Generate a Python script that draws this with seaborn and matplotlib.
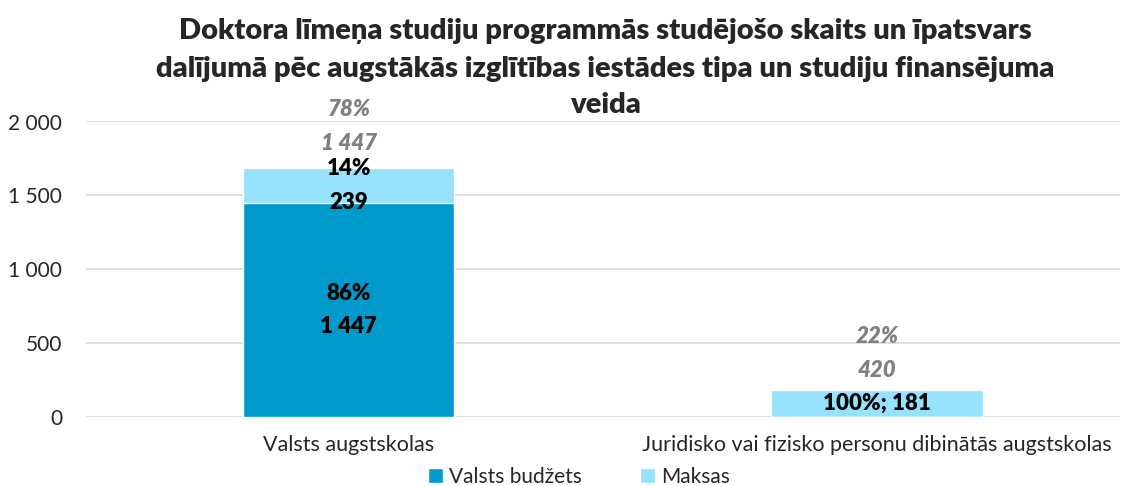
import matplotlib
matplotlib.use("Agg")
import matplotlib.pyplot as plt
import pandas as pd
import seaborn as sns

# data
categories = ["Valsts augstskolas", "Juridisko vai fizisko personu dibinātās augstskolas"]
budzets = [1447, 0]
maksas = [239, 181]
inner_budzets = ["86%\n1 447", ""]
inner_maksas = ["14%\n239", "100%; 181"]
top_labels = ["78%\n1 447", "22%\n420"]
series_names = ["Valsts budžets", "Maksas"]

title_lines = ["Doktora līmeņa studiju programmās studējošo skaits un īpatsvars",
               "dalījumā pēc augstākās izglītības iestādes tipa un studiju finansējuma",
               "veida"]

dark = "#009ACD"
light = "#96E1FB"

sns.set_style("white")
plt.rcParams["font.family"] = ["Lato", "DejaVu Sans"]

df = pd.DataFrame({"cat": categories, "budzets": budzets, "maksas": maksas})
df["total"] = df["budzets"] + df["maksas"]

fig, ax = plt.subplots(figsize=(11.29, 4.86), dpi=100)
fig.subplots_adjust(left=0.076, right=0.992, top=0.75, bottom=0.142)

sns.barplot(data=df, x="cat", y="total", color=light, width=0.4, ax=ax,
            saturation=1, label=series_names[1], zorder=2)
sns.barplot(data=df, x="cat", y="budzets", color=dark, width=0.4, ax=ax,
            saturation=1, label=series_names[0], zorder=3)

lab_kw = dict(ha="center", va="center", fontsize=16, fontweight="heavy",
              color="black", linespacing=1.75, zorder=5)

# labels inside segments
for i, row in df.iterrows():
    if inner_budzets[i]:
        ax.text(i, row["budzets"] / 2, inner_budzets[i], **lab_kw)
    ax.text(i, row["budzets"] + row["maksas"] / 2, inner_maksas[i], **lab_kw)

# grey italic labels above bars
offsets = [10, 7]
for i, row in df.iterrows():
    ax.annotate(top_labels[i], xy=(i, row["total"]), xytext=(0, offsets[i]),
                textcoords="offset points", ha="center", va="bottom",
                fontsize=16, fontweight="heavy", fontstyle="italic",
                color="#808080", linespacing=1.75, zorder=5)

ax.set_ylim(0, 2000)
ax.set_yticks([0, 500, 1000, 1500, 2000])
ax.set_yticklabels([f"{v:,}".replace(",", " ") for v in [0, 500, 1000, 1500, 2000]])
ax.set_xlim(-0.498, 1.46)
ax.yaxis.grid(True, color="#D9D9D9", linewidth=1.2, zorder=0)
ax.set_axisbelow(True)
ax.set_xlabel("")
ax.set_ylabel("")
ax.tick_params(axis="both", length=0, labelsize=15, colors="#262626")
ax.tick_params(axis="x", pad=13, labelsize=15.5)
ax.tick_params(axis="y", pad=17)
sns.despine(ax=ax, left=True, bottom=True)

# title, one text per line
title_y = [31, 69, 105]
for line, ypx in zip(title_lines, title_y):
    fig.text(0.536, 1 - ypx / 486, line, ha="center", va="center", fontsize=21,
             fontweight="heavy", color="#262626")

handles, labels = ax.get_legend_handles_labels()
order = [labels.index(n) for n in series_names]
ax.legend([handles[k] for k in order], [labels[k] for k in order],
          loc="lower center", bbox_to_anchor=(0.477, -0.3), ncol=2, frameon=False,
          fontsize=15, handlelength=0.7, handleheight=0.7, columnspacing=2.8,
          handletextpad=0.3)

fig.savefig("out.png", dpi=100)
